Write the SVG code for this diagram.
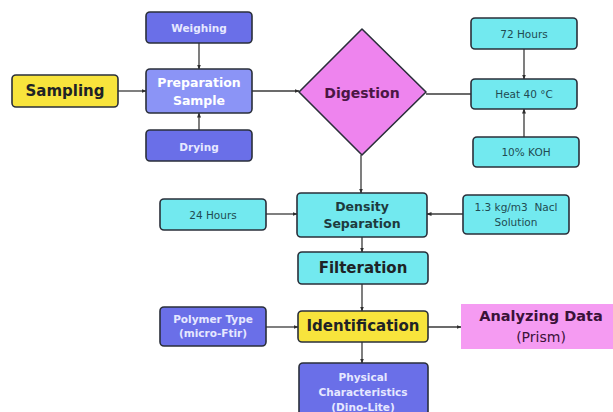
<svg xmlns="http://www.w3.org/2000/svg" width="613" height="412" viewBox="0 0 613 412">
  <defs>
    <marker id="arrow" viewBox="0 0 10 10" refX="9" refY="5" markerWidth="5" markerHeight="5" orient="auto" markerUnits="userSpaceOnUse">
      <path d="M0,1 L10,5 L0,9 z" fill="#2e2e2e"/>
    </marker>
    <style>
      .box { stroke: #2a2f3a; stroke-width: 1.6; }
      .yellow { fill: #f8e43c; }
      .blue { fill: #6a6fe8; }
      .blue-light { fill: #8b94f6; }
      .cyan { fill: #72e9ef; }
      .pink { fill: #ee84ee; }
      .pink-soft { fill: #f59bf2; }
      text { font-family: "DejaVu Sans", "Open Sans", sans-serif; text-anchor: middle; dominant-baseline: central; }
      .t-big { font-size: 15px; font-weight: bold; fill: #1e2326; }
      .t-mid { font-size: 12.5px; font-weight: bold; }
      .t-sm { font-size: 10.5px; }
      .t-light { fill: #e6e8ff; font-weight: bold; }
      .t-cyan { fill: #1f4b52; }
      .link { fill: none; stroke: #3a3a3a; stroke-width: 1.3; }
    </style>
  </defs>

  <rect width="613" height="412" fill="#ffffff"/>

  <!-- connectors -->
  <g id="connectors">
    <line class="link" x1="118" y1="91" x2="146" y2="91" marker-end="url(#arrow)"/>
    <line class="link" x1="199" y1="43" x2="199" y2="69" marker-end="url(#arrow)"/>
    <line class="link" x1="199" y1="130" x2="199" y2="113" marker-end="url(#arrow)"/>
    <line class="link" x1="252" y1="91" x2="299" y2="91" marker-end="url(#arrow)"/>
    <line class="link" x1="426" y1="94" x2="471" y2="94"/>
    <line class="link" x1="524" y1="49" x2="524" y2="79" marker-end="url(#arrow)"/>
    <line class="link" x1="524" y1="137" x2="524" y2="109" marker-end="url(#arrow)"/>
    <line class="link" x1="361" y1="155" x2="361" y2="193" marker-end="url(#arrow)"/>
    <line class="link" x1="266" y1="214" x2="297" y2="214" marker-end="url(#arrow)"/>
    <line class="link" x1="463" y1="214" x2="427" y2="214" marker-end="url(#arrow)"/>
    <line class="link" x1="362" y1="237" x2="362" y2="252" marker-end="url(#arrow)"/>
    <line class="link" x1="362" y1="284" x2="362" y2="311" marker-end="url(#arrow)"/>
    <line class="link" x1="266" y1="327" x2="298" y2="327" marker-end="url(#arrow)"/>
    <line class="link" x1="428" y1="327" x2="461" y2="327" marker-end="url(#arrow)"/>
    <line class="link" x1="362" y1="342" x2="362" y2="363" marker-end="url(#arrow)"/>
  </g>

  <!-- nodes -->
  <g id="sampling">
    <rect class="box yellow" x="12" y="75" width="106" height="32" rx="4"/>
    <text class="t-big" x="65" y="91">Sampling</text>
  </g>
  <g id="weighing">
    <rect class="box blue" x="146" y="12" width="106" height="31" rx="4"/>
    <text class="t-sm t-light" x="199" y="28">Weighing</text>
  </g>
  <g id="preparation">
    <rect class="box blue-light" x="146" y="69" width="106" height="44" rx="4"/>
    <text class="t-mid" fill="#ffffff" x="199" y="82">Preparation</text>
    <text class="t-mid" fill="#ffffff" x="199" y="100">Sample</text>
  </g>
  <g id="drying">
    <rect class="box blue" x="146" y="130" width="106" height="31" rx="4"/>
    <text class="t-sm t-light" x="199" y="147">Drying</text>
  </g>
  <g id="digestion">
    <polygon class="box pink" points="362,29 426,92 362,155 299,92" stroke-linejoin="round"/>
    <text class="t-mid" fill="#4a1644" style="font-size:14px" x="362" y="93">Digestion</text>
  </g>
  <g id="hours72">
    <rect class="box cyan" x="471" y="18" width="106" height="31" rx="4"/>
    <text class="t-sm t-cyan" x="524" y="34">72 Hours</text>
  </g>
  <g id="heat">
    <rect class="box cyan" x="471" y="79" width="106" height="30" rx="4"/>
    <text class="t-sm t-cyan" x="524" y="94">Heat 40 °C</text>
  </g>
  <g id="koh">
    <rect class="box cyan" x="473" y="137" width="106" height="30" rx="4"/>
    <text class="t-sm t-cyan" x="526" y="152">10% KOH</text>
  </g>
  <g id="hours24">
    <rect class="box cyan" x="160" y="199" width="106" height="31" rx="4"/>
    <text class="t-sm t-cyan" x="213" y="215">24 Hours</text>
  </g>
  <g id="density">
    <rect class="box cyan" x="297" y="193" width="130" height="44" rx="4"/>
    <text class="t-mid" fill="#1e3a3e" x="362" y="206">Density</text>
    <text class="t-mid" fill="#1e3a3e" x="362" y="223">Separation</text>
  </g>
  <g id="nacl">
    <rect class="box cyan" x="463" y="195" width="106" height="39" rx="4"/>
    <text class="t-sm t-cyan" x="516" y="207">1.3 kg/m3&#160; Nacl</text>
    <text class="t-sm t-cyan" x="516" y="222">Solution</text>
  </g>
  <g id="filteration">
    <rect class="box cyan" x="298" y="252" width="130" height="32" rx="4"/>
    <text class="t-big" fill="#1e3a3e" x="363" y="268">Filteration</text>
  </g>
  <g id="polymer">
    <rect class="box blue" x="160" y="307" width="106" height="39" rx="4"/>
    <text class="t-sm t-light" x="213" y="319">Polymer Type</text>
    <text class="t-sm t-light" x="213" y="333">(micro-Ftir)</text>
  </g>
  <g id="identification">
    <rect class="box yellow" x="298" y="311" width="130" height="31" rx="4"/>
    <text class="t-big" x="363" y="326">Identification</text>
  </g>
  <g id="analyzing">
    <rect class="pink-soft" x="461" y="304" width="152" height="45"/>
    <text class="t-big" style="font-size:14.5px;fill:#3a1238" x="541" y="316">Analyzing Data</text>
    <text style="font-size:14px;fill:#3a1238" x="541" y="337">(Prism)</text>
  </g>
  <g id="physical">
    <rect class="box blue" x="299" y="363" width="129" height="60" rx="4"/>
    <text class="t-sm t-light" x="363" y="377">Physical</text>
    <text class="t-sm t-light" x="363" y="392">Characteristics</text>
    <text class="t-sm t-light" x="363" y="407">(Dino-Lite)</text>
  </g>
</svg>
